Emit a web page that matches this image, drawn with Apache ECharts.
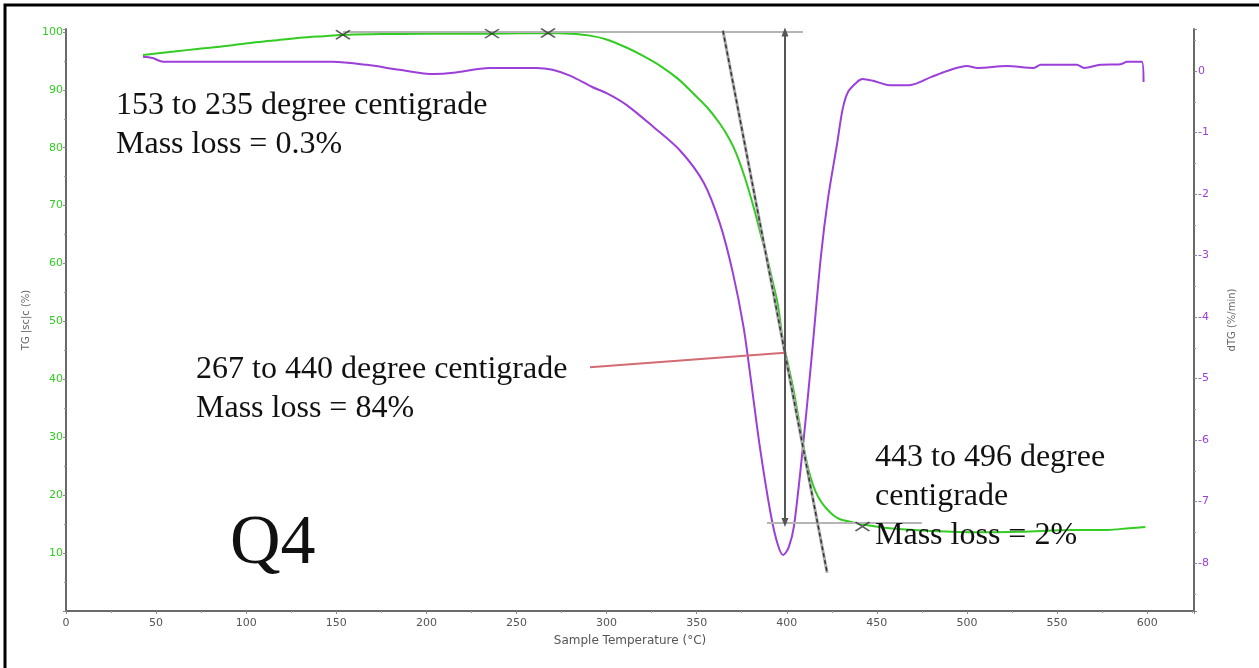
<!DOCTYPE html>
<html>
<head>
<meta charset="utf-8">
<title>Q4 TG / dTG</title>
<script src="https://cdn.jsdelivr.net/npm/echarts@6/dist/echarts.min.js"></script>
<style>
  html, body { margin: 0; padding: 0; background: #fff; }
  #chart { width: 1259px; height: 668px; }
</style>
</head>
<body>
<div id="chart"></div>
<script>
// TG curve (temperature °C, mass %)
const tgTemp = [42.7, 60, 74, 90, 102, 115, 130, 145, 154, 170, 200, 236, 268, 280, 290, 300, 311, 320, 330, 340,
  348, 356, 363, 368, 372, 377, 382, 386, 389, 392, 395, 398, 401, 404, 407, 410, 413, 416, 419, 422,
  426, 430, 437, 445, 457, 475, 503, 530, 559, 578, 590, 599];
const tgMass = [96.0, 96.6, 97.1, 97.6, 98.1, 98.5, 99.0, 99.3, 99.5, 99.6, 99.7, 99.7, 99.8, 99.7, 99.4, 98.7, 97.3, 95.9, 94.1, 91.8,
  89.4, 86.9, 84.1, 81.6, 79.0, 74.6, 69.3, 64.5, 61.1, 57.1, 53.0, 46.5, 42.2, 37.8, 32.5, 27.3, 23.3, 20.6, 18.9, 17.7,
  16.5, 15.8, 15.3, 14.8, 14.3, 13.9, 13.6, 13.7, 14.0, 14.0, 14.3, 14.5];

// dTG curve (temperature °C, %/min)
const dtgTemp = [42.7, 48, 54, 100, 148, 167, 185, 204, 215, 235, 261, 270, 280, 292, 300, 311, 326, 341, 354, 363,
  370, 376, 380, 385, 391, 395, 398, 401, 404, 409, 414, 419, 423, 428, 431, 434, 439, 442, 448, 457,
  468, 480, 489, 500, 506, 522, 537, 541, 561, 565, 574, 585, 589, 597, 598];
const dtgRate = [0.23, 0.21, 0.15, 0.15, 0.15, 0.10, 0.02, -0.05, -0.03, 0.05, 0.05, 0.02, -0.08, -0.26, -0.36, -0.55, -0.91, -1.30, -1.82, -2.49,
  -3.27, -4.16, -5.00, -6.10, -7.19, -7.70, -7.87, -7.75, -7.40, -6.10, -4.59, -3.00, -2.05, -1.17, -0.62, -0.34, -0.18, -0.13, -0.16, -0.23,
  -0.23, -0.10, 0.0, 0.08, 0.05, 0.08, 0.05, 0.10, 0.10, 0.05, 0.10, 0.11, 0.15, 0.15, -0.18];

// step markers (×) on the TG curve
const markTemp = [153.7, 236.4, 267.5, 442];
const markMass = [99.5, 99.7, 99.8, 14.6];

// evaluation lines, in data units [temp, mass]
const baseTop = [[153.7, 100.0], [409, 100.0]];
const baseBottom = [[389, 15.2], [475, 15.2]];
const stepArrow = [[399, 100.0], [399, 15.3]];
const tangent = [[364.6, 100.2], [422.4, 6.6]];
const pointer = [[290.8, 42.1], [399, 44.6]];

const GREEN = '#33cc22';
const PURPLE = '#9b3fd8';

const pairs = (xs, ys) => xs.map((x, i) => [x, ys[i]]);
const seg = (p, style, sym) => [
  { coord: p[0], symbol: sym || 'none', lineStyle: style },
  { coord: p[1], symbol: sym || 'none' }
];

const chart = echarts.init(document.getElementById('chart'));

const serif = 'Liberation Serif, Times New Roman, serif';
const note = (txt, x, y, size) => ({
  type: 'text', x: x, y: y, z: 50,
  style: { text: txt, fill: '#111', fontSize: size || 32, fontFamily: serif, verticalAlign: 'middle' }
});

chart.setOption({
  animation: false,
  grid: { left: 66, right: 65, top: 29, bottom: 57 },
  xAxis: {
    type: 'value', min: 0, max: 626, interval: 50,
    name: 'Sample Temperature (°C)', nameLocation: 'middle', nameGap: 24,
    nameTextStyle: { color: '#555', fontSize: 12, fontFamily: 'DejaVu Sans' },
    axisLine: { show: true, lineStyle: { color: '#6a6a6a', width: 2 } },
    axisTick: { show: true, length: 3, lineStyle: { color: '#888' } },
    minorTick: { show: true, splitNumber: 2, length: 2, lineStyle: { color: '#999' } },
    splitLine: { show: false },
    axisLabel: {
      color: '#555', fontSize: 11, fontFamily: 'DejaVu Sans', margin: 7,
      formatter: v => (Math.abs(v % 50) < 1e-6 ? String(v) : '')
    }
  },
  yAxis: [
    {
      type: 'value', min: 0, max: 100.5, interval: 10, position: 'left',
      name: 'TG |sc|c (%)', nameLocation: 'middle', nameGap: 33,
      nameTextStyle: { color: '#666', fontSize: 10, fontFamily: 'DejaVu Sans' },
      axisLine: { show: true, lineStyle: { color: '#6a6a6a', width: 2 } },
      axisTick: { show: true, length: 3, lineStyle: { color: '#888' } },
      minorTick: { show: true, splitNumber: 2, length: 2, lineStyle: { color: '#999' } },
      splitLine: { show: false },
      axisLabel: {
        color: GREEN, fontSize: 11, fontFamily: 'DejaVu Sans', margin: 3,
        formatter: v => (v > 0 && Math.abs(v % 10) < 1e-6 ? String(v) : '')
      }
    },
    {
      type: 'value', min: -8.78, max: 0.683, splitNumber: 9, position: 'right',
      name: 'dTG (%/min)', nameLocation: 'middle', nameGap: 33,
      nameTextStyle: { color: '#666', fontSize: 10, fontFamily: 'DejaVu Sans' },
      axisLine: { show: true, lineStyle: { color: '#6a6a6a', width: 2 } },
      axisTick: { show: true, length: 3, lineStyle: { color: '#888' } },
      minorTick: { show: true, splitNumber: 2, length: 2, lineStyle: { color: '#999' } },
      splitLine: { show: false },
      axisLabel: {
        color: PURPLE, fontSize: 11, fontFamily: 'DejaVu Sans', margin: 4,
        formatter: v => (Math.abs(v - Math.round(v)) < 1e-6 ? String(Math.round(v)) : '')
      }
    }
  ],
  series: [
    {
      name: 'dTG', type: 'line', yAxisIndex: 1, z: 3,
      data: pairs(dtgTemp, dtgRate),
      showSymbol: false, smooth: 0.3,
      lineStyle: { color: PURPLE, width: 2 }
    },
    {
      name: 'TG', type: 'line', yAxisIndex: 0, z: 4,
      data: pairs(tgTemp, tgMass),
      showSymbol: false, smooth: 0.3,
      lineStyle: { color: GREEN, width: 2 },
      markLine: {
        silent: true, animation: false, symbol: ['none', 'none'],
        label: { show: false },
        lineStyle: { type: 'solid' },
        data: [
          seg(baseTop, { color: '#b5b5b5', width: 2 }),
          seg(baseBottom, { color: '#b5b5b5', width: 2 }),
          seg(tangent, { color: '#a8a8a8', width: 3, type: 'solid' }),
          seg(tangent, { color: '#333', width: 1.5, type: [4, 3] }),
          seg(pointer, { color: '#d46b74', width: 2 }),
          [
            { coord: stepArrow[0], symbol: 'triangle', symbolSize: [7, 9], lineStyle: { color: '#555', width: 2 } },
            { coord: stepArrow[1], symbol: 'triangle', symbolSize: [7, 9] }
          ]
        ]
      }
    },
    {
      name: 'steps', type: 'scatter', yAxisIndex: 0, z: 6,
      data: pairs(markTemp, markMass),
      symbol: 'path://M0,0L14,9M14,0L0,9', symbolSize: [14, 9], symbolKeepAspect: false,
      itemStyle: { color: 'rgba(0,0,0,0)', borderColor: '#333', borderWidth: 1.6 }
    }
  ],
  graphic: [
    { type: 'rect', shape: { x: 5, y: 5, width: 1270, height: 680 }, style: { fill: 'none', stroke: '#000', lineWidth: 3 }, z: 60 },
    note('153 to 235 degree centigrade', 116, 106),
    note('Mass loss = 0.3%', 116, 145),
    note('267 to 440 degree centigrade', 196, 370),
    note('Mass loss = 84%', 196, 409),
    note('443 to 496 degree', 875, 458),
    note('centigrade', 875, 497),
    note('Mass loss = 2%', 875, 536),
    note('Q4', 230, 545, 70)
  ]
});
</script>
</body>
</html>
